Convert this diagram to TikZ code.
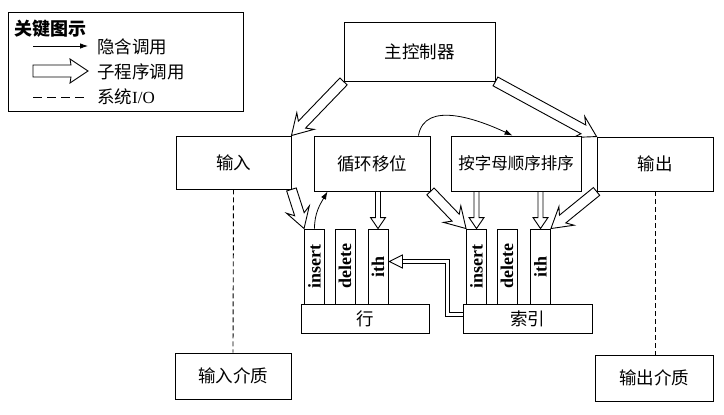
\documentclass[tikz,border=0pt]{standalone}
\usepackage{fontspec}
\setmainfont{Liberation Serif}
\newfontfamily\cjk{Noto Sans CJK SC}
\usetikzlibrary{calc,arrows.meta,backgrounds}
\newcommand{\harrow}[6]{%
  \draw[hollow] let \p1=(#1), \p2=(#2),
    \n1={atan2(\y2-\y1,\x2-\x1)}, \n2={veclen(\x2-\x1,\y2-\y1)} in
    ($(\p1)+({\n1+90}:#3)$) -- ($(\p1)+({\n1}:{\n2-#4})+({\n1+90}:#3)$)
    -- ($(\p1)+({\n1}:{\n2-#4-#6})+({\n1+90}:#5)$) -- (\p2)
    -- ($(\p1)+({\n1}:{\n2-#4-#6})+({\n1-90}:#5)$)
    -- ($(\p1)+({\n1}:{\n2-#4})+({\n1-90}:#3)$)
    -- ($(\p1)+({\n1-90}:#3)$) -- cycle;}
\begin{document}
\begin{tikzpicture}[x=1pt,y=-1pt,
  box/.style={draw, line width=0.9pt, fill=white, inner sep=0pt,
    font=\cjk\fontsize{17.5}{20}\selectfont},
  slot/.style={draw, line width=0.9pt, fill=white, inner sep=0pt,
    minimum width=20, minimum height=75,
    font=\bfseries\fontsize{18}{18}\selectfont},
  hollow/.style={draw, line width=0.9pt, fill=white, line join=miter},
  imp/.style={line width=0.8pt, -{Latex[length=8pt,width=5.5pt]}},
  sysio/.style={line width=0.9pt, dash pattern=on 5pt off 3pt},
  lbl/.style={anchor=west, inner sep=0pt, font=\cjk\fontsize{17.5}{20}\selectfont}]
\useasboundingbox (0,0) rectangle (724,415);

% legend
\node[draw, line width=0.9pt, minimum width=235, minimum height=99, inner sep=0pt] (legend) at (125.5,61.5) {};
\node[lbl, font=\cjk\bfseries\fontsize{18}{20}\selectfont] (ltitle) at (14,29) {关键图示};
\coordinate (l1a) at (33,46); \coordinate (l1b) at (88,46);
\coordinate (l2a) at (33,71); \coordinate (l2b) at (88,71);
\coordinate (l3a) at (33,97); \coordinate (l3b) at (88,97);
\draw[imp] (l1a) -- (l1b);
\harrow{l2a}{l2b}{6pt}{17pt}{12pt}{1pt}
\draw[line width=0.9pt, dash pattern=on 9pt off 5pt] (l3a) -- (l3b);
\node[lbl] (lt1) at (97,47) {隐含调用};
\node[lbl] (lt2) at (97,72) {子程序调用};
\node[lbl] (lt3) at (97,97) {系统{\rmfamily\fontsize{17}{20}\selectfont I/O}};

% nodes
\node[box, minimum width=151, minimum height=59] (zk) at (419.5,51.5) {主控制器};
\node[box, minimum width=115, minimum height=53] (sr) at (233.5,162.5) {输入};
\node[box, minimum width=116, minimum height=55] (xh) at (372,163.5) {循环移位};
\node[box, minimum width=130, minimum height=55, font=\cjk\fontsize{16.5}{20}\selectfont] (px) at (516,163.5) {按字母顺序排序};
\node[box, minimum width=116, minimum height=54] (sc) at (655,164) {输出};
\node[box, minimum width=116, minimum height=46] (srjz) at (233,376) {输入介质};
\node[box, minimum width=118, minimum height=46] (scjz) at (654,378) {输出介质};

\node[slot] (ins1) at (314.5,266.5) {\rotatebox{90}{insert}};
\node[slot] (del1) at (345,266.5) {\rotatebox{90}{delete}};
\node[slot] (ith1) at (378,266.5) {\rotatebox{90}{ith}};
\node[slot] (ins2) at (476.5,266.5) {\rotatebox{90}{insert}};
\node[slot] (del2) at (507,266.5) {\rotatebox{90}{delete}};
\node[slot] (ith2) at (540.5,266.5) {\rotatebox{90}{ith}};
\node[box, minimum width=128, minimum height=29] (hang) at (365,318.5) {行};
\node[box, minimum width=129, minimum height=29] (suoyin) at (527.5,318.5) {索引};

% subroutine calls (hollow arrows), behind the boxes
\begin{pgfonlayer}{background}
\harrow{zk.south west}{sr.north east}{5pt}{15pt}{12pt}{5pt}
\harrow{zk.south east}{sc.north west}{5pt}{15pt}{12pt}{5pt}
\harrow{sr.south east}{ins1.north west}{5pt}{15pt}{12pt}{5pt}
\harrow{xh.south east}{ins2.north west}{5pt}{15pt}{12pt}{5pt}
\harrow{sc.south west}{ith2.north east}{5pt}{15pt}{12pt}{5pt}
\harrow{ith1.north |- xh.south}{ith1.north}{2.5pt}{11pt}{7.5pt}{0pt}
\harrow{ins2.north |- px.south}{ins2.north}{2.5pt}{11pt}{7.5pt}{0pt}
\harrow{ith2.north |- px.south}{ith2.north}{2.5pt}{11pt}{7.5pt}{0pt}
\end{pgfonlayer}

% 索引 -> ith (行) subroutine call
\coordinate (tip) at ($(ith1.east)+(1,-5)$);
\coordinate (hb) at ($(tip)+(13,0)$);
\coordinate (bend1) at (447.5,314.5);
\draw[line width=0.8pt, double distance=3.5pt] ($(suoyin.west)+(0,-4)$) -- (bend1) |- (hb);
\draw[hollow] (tip) -- ($(hb)+(0,-6.5)$) -- ($(hb)+(0,6.5)$) -- cycle;

% implied calls
\draw[imp] (ins1.north) to[out=90, in=-120] ($(xh.south west)+(14,0)$);
\draw[imp] ($(xh.north east)+(-12,0)$) to[out=80, in=155] ($(px.north west)+(62,0)$);

% system I/O
\draw[sysio] (sr.south) -- (srjz.north);
\draw[sysio] (sc.south) -- (sc.south |- scjz.north);
\end{tikzpicture}
\end{document}
